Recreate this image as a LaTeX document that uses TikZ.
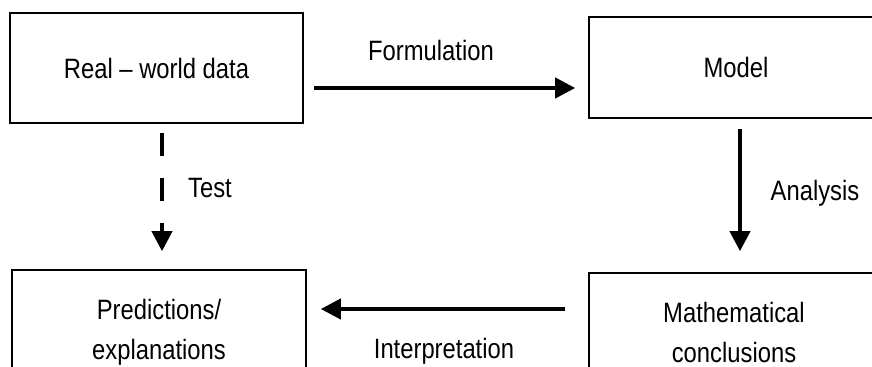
\documentclass[tikz,border=0pt]{standalone}
\usepackage{fontspec}
\setmainfont{Liberation Sans}[FakeStretch=0.85]
\usetikzlibrary{arrows.meta}

\tikzset{
  box/.style={draw, line width=0.8pt, inner sep=0pt, align=center,
    font=\fontsize{14}{20}\selectfont},
  arr/.style={line width=2pt, -{Triangle[length=10pt,width=10pt]}},
  lbl/.style={inner sep=0pt, font=\fontsize{14}{20}\selectfont},
}

\begin{document}
\begin{tikzpicture}[x=0.5pt, y=-0.5pt]
    \useasboundingbox (0,0) rectangle (872,367);
    \fill[white] (0,0) rectangle (872,367);
    \clip (0,0) rectangle (872,367);

    % Boxes
    \node[box, minimum width=146.5pt, minimum height=55pt] (real) at (156.5,68) {Real -- world data};
    \node[box, minimum width=147pt, minimum height=50.5pt] (model) at (736,67.5) {Model};
    \node[box, minimum width=147pt, minimum height=62pt] (pred) at (159,332) {Predictions/\\explanations};
    \node[box, minimum width=145pt, minimum height=59pt] (math) at (734,332) {Mathematical\\conclusions};

    % Arrows
    \draw[arr] ([shift={(10,20)}]real.east) -- ([shift={(-13,20.5)}]model.west);
    \draw[arr] ([shift={(4,10)}]model.south) -- ([shift={(6,-21)}]math.north);
    \draw[arr] ([shift={(-23,-23)}]math.west) -- ([shift={(14,-23)}]pred.east);
    \draw[arr, dash pattern=on 11.5pt off 11pt] ([shift={(5.5,9)}]real.south) -- ([shift={(3,-18)}]pred.north);

    % Labels
    \node[lbl] (formlbl) at (431,50) {Formulation};
    \node[lbl] (testlbl) at (210,188) {Test};
    \node[lbl] (anlbl) at (815,193) {Analysis};
    \node[lbl] (intlbl) at (444,351) {Interpretation};
\end{tikzpicture}
\end{document}
